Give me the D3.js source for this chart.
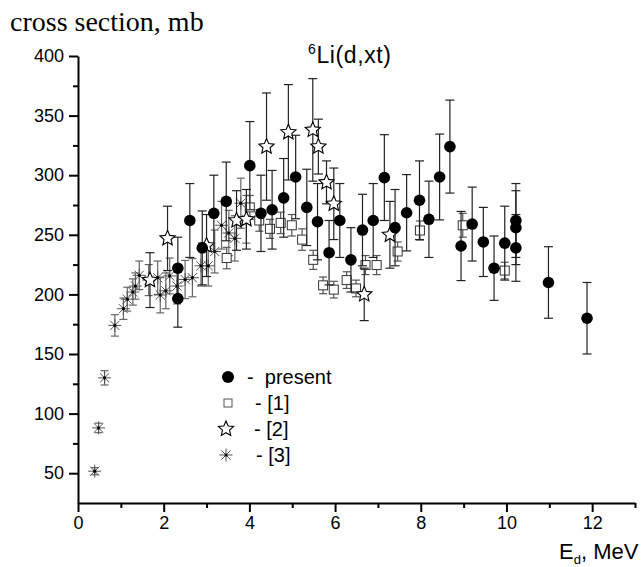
<!DOCTYPE html>
<html>
<head>
<meta charset="utf-8">
<script src="https://cdn.jsdelivr.net/npm/d3@7"></script>
<style>
  body { margin: 0; background: #fff; }
  svg { display: block; }
</style>
</head>
<body>
<svg id="chart" width="643" height="567"></svg>
<script>
// each point: [E_d (MeV), cross section (mb), error (mb)]
const present = [
  [2.33, 222, 26], [2.33, 196.5, 24], [2.61, 262, 31], [2.90, 239, 31], [3.17, 268, 32],
  [3.46, 278, 33], [4.01, 308, 37], [4.27, 268, 32], [4.53, 271, 33], [4.80, 281, 33],
  [5.08, 298.5, 35], [5.34, 273, 32], [5.59, 261, 32], [5.86, 235, 27], [6.11, 262, 31],
  [6.37, 229, 27], [6.64, 254, 30], [6.89, 262, 31], [7.15, 298, 36], [7.40, 256, 32],
  [7.67, 268.5, 32], [7.97, 279, 33], [8.19, 263, 32], [8.44, 298.5, 36], [8.68, 324, 39],
  [8.94, 240.6, 29], [9.20, 259, 31], [9.46, 244, 29], [9.71, 222, 27], [9.96, 243, 31],
  [10.22, 262, 31], [10.22, 256, 31], [10.22, 239, 28], [10.98, 210, 30], [11.88, 180, 30]
];
const ref1 = [
  [3.47, 230.5, 9], [4.01, 273, 10], [4.23, 262, 9], [4.48, 255, 8], [4.73, 260, 9],
  [4.99, 258, 9], [5.23, 246, 9], [5.49, 229, 8], [5.72, 207.6, 7], [5.97, 204, 7],
  [6.27, 212, 7], [6.49, 205, 7], [6.71, 224.6, 8], [6.97, 224.6, 8], [7.46, 236, 8],
  [7.98, 253.6, 8], [8.98, 258, 10], [9.96, 220, 7]
];
const ref2 = [
  [1.68, 212, 23], [2.09, 247, 27], [3.00, 241, 26], [3.70, 262, 25], [3.93, 263, 25],
  [4.40, 324, 45], [4.91, 336, 40], [5.48, 338, 43], [5.61, 324, 23], [5.80, 294, 18],
  [5.97, 276, 30], [6.68, 200, 22], [7.28, 250, 28]
];
const ref3 = [
  [0.39, 51.7, 3], [0.48, 88, 4], [0.62, 130, 6], [0.86, 174, 9], [1.06, 188, 9],
  [1.15, 196, 10], [1.28, 202, 11], [1.34, 207, 11], [1.43, 216, 12], [1.65, 212, 13],
  [1.86, 214, 14], [1.92, 199.5, 15], [2.05, 203, 15], [2.14, 215.5, 15], [2.31, 207, 15],
  [2.50, 212.5, 16], [2.67, 214, 16], [2.87, 224, 17], [3.04, 224, 17], [3.19, 236, 18],
  [3.35, 258, 20], [3.52, 251.5, 19], [3.66, 247, 19], [3.80, 276.5, 21], [3.93, 263, 20]
];

const xMajor = [0, 2, 4, 6, 8, 10, 12];
const xMinor = [1, 3, 5, 7, 9, 11, 13];
const yMajor = [50, 100, 150, 200, 250, 300, 350, 400];
const yMinor = [75, 125, 175, 225, 275, 325, 375];
const legendLabels = ["-  present", "- [1]", "- [2]", "- [3]"];

const svg = d3.select("#chart");
const margin = { top: 56, right: 8, bottom: 64, left: 78 };
const width = 643, height = 567;

const x = d3.scaleLinear().domain([0, 13]).range([margin.left, width - margin.right]);
const y = d3.scaleLinear().domain([25, 400]).range([height - margin.bottom, margin.top]);

const sans = "'Liberation Sans', Arial, sans-serif";

// axes
const xAxis = svg.append("g").attr("transform", `translate(0,${y(25)})`);
xAxis.call(d3.axisBottom(x).tickValues(xMajor).tickSize(9).tickSizeOuter(0).tickPadding(4));
xAxis.append("g").call(d3.axisBottom(x).tickValues(xMinor).tickSize(5).tickFormat(""))
  .select(".domain").remove();

const yAxis = svg.append("g").attr("transform", `translate(${x(0)},0)`);
yAxis.call(d3.axisLeft(y).tickValues(yMajor).tickSize(9).tickSizeOuter(0).tickPadding(5));
yAxis.append("g").call(d3.axisLeft(y).tickValues(yMinor).tickSize(5).tickFormat(""))
  .select(".domain").remove();

svg.selectAll(".domain, .tick line").attr("stroke", "#000").attr("stroke-width", 2);
svg.selectAll(".tick text").attr("font-family", sans).attr("font-size", 18).attr("fill", "#000");

// marker shapes
function starPath(R, r) {
  const pts = d3.range(10).map(i => {
    const a = -Math.PI / 2 + i * Math.PI / 5;
    const rad = i % 2 ? r : R;
    return [rad * Math.cos(a), rad * Math.sin(a)];
  });
  return "M" + pts.map(p => p.join(",")).join("L") + "Z";
}
const asteriskPath = (function (h) {
  const d = h * Math.SQRT1_2;
  return `M${-h},0L${h},0M0,${-h}L0,${h}M${-d},${-d}L${d},${d}M${-d},${d}L${d},${-d}`;
})(6.5);

function errorBars(data, color, cap) {
  const g = svg.append("g").attr("stroke", color).attr("stroke-width", 1.2);
  data.forEach(d => {
    const cx = x(d[0]), y0 = y(d[1] - d[2]), y1 = y(d[1] + d[2]);
    g.append("line").attr("x1", cx).attr("x2", cx).attr("y1", y0).attr("y2", y1);
    g.append("line").attr("x1", cx - cap).attr("x2", cx + cap).attr("y1", y0).attr("y2", y0);
    g.append("line").attr("x1", cx - cap).attr("x2", cx + cap).attr("y1", y1).attr("y2", y1);
  });
}

// [3] asterisks
errorBars(ref3, "#666", 4);
const g3 = svg.append("g");
ref3.forEach(d => {
  const t = `translate(${x(d[0])},${y(d[1])})`;
  g3.append("path").attr("d", asteriskPath).attr("transform", t)
    .attr("stroke", "#555").attr("stroke-width", 1).attr("fill", "none");
  g3.append("circle").attr("transform", t).attr("r", 1.6).attr("fill", "#000");
});

// [1] squares
errorBars(ref1, "#555", 4);
svg.append("g").selectAll("rect").data(ref1).join("rect")
  .attr("x", d => x(d[0]) - 4.5).attr("y", d => y(d[1]) - 4.5)
  .attr("width", 9).attr("height", 9)
  .attr("fill", "#fff").attr("stroke", "#333").attr("stroke-width", 1);

// [2] stars
errorBars(ref2, "#222", 4.5);
svg.append("g").selectAll("path").data(ref2).join("path")
  .attr("d", starPath(8, 3.7))
  .attr("transform", d => `translate(${x(d[0])},${y(d[1])})`)
  .attr("fill", "#fff").attr("stroke", "#000").attr("stroke-width", 1.1);

// present: filled circles
errorBars(present, "#222", 4.5);
svg.append("g").selectAll("circle").data(present).join("circle")
  .attr("cx", d => x(d[0])).attr("cy", d => y(d[1])).attr("r", 5.8)
  .attr("fill", "#000");

// legend
const leg = svg.append("g").attr("font-family", sans).attr("font-size", 20).attr("fill", "#000");
const legY = [377, 403, 429, 455];
const legText = [247, 255, 254, 256];
leg.append("circle").attr("cx", 228).attr("cy", legY[0]).attr("r", 6).attr("fill", "#000");
leg.append("rect").attr("x", 224).attr("y", legY[1] - 4).attr("width", 8).attr("height", 8)
  .attr("fill", "#fff").attr("stroke", "#555");
leg.append("path").attr("d", starPath(8, 3.7)).attr("transform", `translate(226,${legY[2]})`)
  .attr("fill", "#fff").attr("stroke", "#000").attr("stroke-width", 1.1);
leg.append("path").attr("d", asteriskPath).attr("transform", `translate(226,${legY[3]})`)
  .attr("stroke", "#555").attr("fill", "none");
leg.append("circle").attr("cx", 226).attr("cy", legY[3]).attr("r", 1.5).attr("fill", "#000");
legendLabels.forEach((t, i) => {
  leg.append("text").attr("x", legText[i]).attr("y", legY[i] + 7).attr("xml:space", "preserve").text(t);
});

// titles
svg.append("text").attr("x", 10).attr("y", 31)
  .attr("font-family", "'Liberation Serif', 'Times New Roman', serif").attr("font-size", 28)
  .text("cross section, mb");

const title = svg.append("text").attr("x", 308).attr("y", 63)
  .attr("font-family", sans).attr("font-size", 23).attr("letter-spacing", 0.6);
title.append("tspan").attr("font-size", 14).attr("dy", -9).text("6");
title.append("tspan").attr("dy", 9).text("Li(d,xt)");

const xl = svg.append("text").attr("x", 559).attr("y", 559)
  .attr("font-family", sans).attr("font-size", 22);
xl.append("tspan").text("E");
xl.append("tspan").attr("font-size", 13).attr("dy", 5).text("d");
xl.append("tspan").attr("dy", -5).text(", MeV");
</script>
</body>
</html>
